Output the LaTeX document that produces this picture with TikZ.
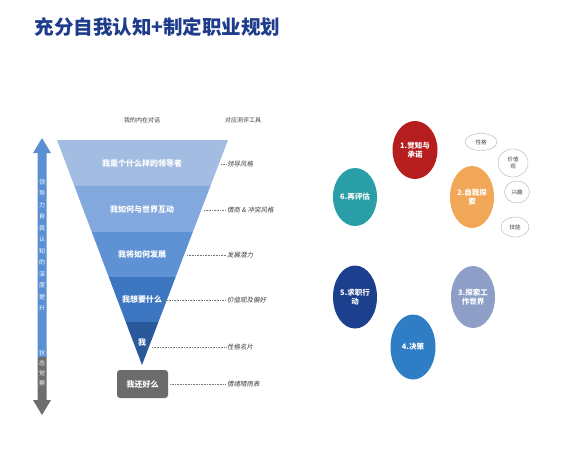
\documentclass[tikz,border=0pt]{standalone}
\usepackage{fontspec}
\setmainfont{Noto Sans CJK SC}
\newfontfamily\slantcjk[FakeSlant=0.2]{Noto Sans CJK SC}
\usepackage{tikz}
\usetikzlibrary{calc, arrows.meta, positioning, shapes.geometric}
\usepackage{xcolor}

\definecolor{titleblue}{HTML}{1E3C8C}
\definecolor{layA}{HTML}{A3BDE2}
\definecolor{layB}{HTML}{82A8DD}
\definecolor{layC}{HTML}{5F92D4}
\definecolor{layD}{HTML}{3D76C0}
\definecolor{layE}{HTML}{29599A}
\definecolor{boxgray}{HTML}{6B6B6B}
\definecolor{arrowblue}{HTML}{5B8FD3}
\definecolor{arrowgray}{HTML}{6E6E6E}
\definecolor{labelgray}{HTML}{3F3F3F}
\definecolor{stepred}{HTML}{B51D1F}
\definecolor{steporange}{HTML}{F2A657}
\definecolor{stepgrey}{HTML}{8D9FC6}
\definecolor{stepblue}{HTML}{2F7DC5}
\definecolor{stepnavy}{HTML}{1C3F8E}
\definecolor{stepteal}{HTML}{2A9EA6}

\begin{document}
\begin{tikzpicture}[x=1pt, y=-1pt,
    layer/.style={text=white, font=\fontsize{8}{9}\selectfont\bfseries},
    tool/.style={anchor=west, text=labelgray, font=\fontsize{6.5}{7}\selectfont\slantcjk, inner sep=1pt},
    head/.style={text=labelgray, font=\fontsize{6}{7}\selectfont},
    link/.style={densely dotted, labelgray!70, line width=0.6pt},
    stage/.style={ellipse, minimum width=44pt, minimum height=60pt, inner sep=0pt, align=center,
      text=white, font=\fontsize{7.5}{9}\selectfont\bfseries},
    trait/.style={ellipse, draw=gray!60, fill=white, inner sep=0pt, align=center,
      text=labelgray, font=\fontsize{5.5}{6.5}\selectfont}]
    \useasboundingbox (0,0) rectangle (572,453);
    \fill[white] (0,0) rectangle (572,453);

    % title
    \node[text=titleblue, font=\fontsize{19.5}{22}\selectfont\bfseries, anchor=west] (title) at (31,27) {充分自我认知+制定职业规划};

    % left double arrow
    \fill[arrowblue] (42,138) -- (51,153) -- (46.5,153) -- (46.5,357) -- (37.5,357) -- (37.5,153) -- (33,153) -- cycle;
    \fill[arrowgray] (37.5,357) -- (46.5,357) -- (46.5,400) -- (51,400) -- (42,415) -- (33,400) -- (37.5,400) -- cycle;
    \node[text=white, align=center, font=\fontsize{6}{11.5}\selectfont] (deep) at (42,245)
      {领\\导\\力\\自\\我\\认\\知\\的\\深\\度\\提\\升};
    \node[text=white, align=center, font=\fontsize{6}{10}\selectfont] (state) at (42,368)
      {状\\态\\觉\\察};

    % funnel
    \coordinate (tl) at (57,140);
    \coordinate (tr) at (228,140);
    \coordinate (apex) at (142,365);
    \foreach \a/\b/\c in {0/0.204/layA, 0.204/0.409/layB, 0.409/0.609/layC, 0.609/0.809/layD, 0.809/1/layE}
      \fill[\c] ($(tl)!\a!(apex)$) -- ($(tr)!\a!(apex)$) -- ($(tr)!\b!(apex)$) -- ($(tl)!\b!(apex)$) -- cycle;

    \node[layer] (lead) at (142,163) {我是个什么样的领导者};
    \node[layer] (world) at (142,209) {我如何与世界互动};
    \node[layer] (grow) at (142,254) {我将如何发展};
    \node[layer] (want) at (142,299) {我想要什么};
    \node[layer] (me) at (142,342) {我};
    \node[fill=boxgray, rounded corners=3pt, minimum width=51pt, minimum height=28pt, text=white,
      font=\fontsize{8}{9}\selectfont\bfseries] (ok) at (142.5,384) {我还好么};

    % headers
    \node[head] (inner) at (142,120) {我的内在对话};
    \node[head] (tools) at (243,120) {对应测评工具};

    % tools
    \node[tool] (t1) at (226,164) {领导风格};
    \node[tool] (t2) at (226,210) {情商 \& 冲突风格};
    \node[tool] (t3) at (226,255) {发展潜力};
    \node[tool] (t4) at (226,300) {价值观及偏好};
    \node[tool] (t5) at (226,347) {性格名片};
    \node[tool] (t6) at (226,384) {情绪晴雨表};
    \coordinate (e1) at (221,164);
    \coordinate (e2) at (204,210);
    \coordinate (e3) at (187,255);
    \coordinate (e4) at (164,300);
    \coordinate (e5) at (152,347);
    \draw[link] (e1) -- (t1.west);
    \draw[link] (e2) -- (t2.west);
    \draw[link] (e3) -- (t3.west);
    \draw[link] (e4) -- (t4.west);
    \draw[link] (e5) -- (t5.west);
    \draw[link] ([xshift=2pt]ok.east) -- (t6.west);

    % career cycle
    \node[stage, fill=stepred, minimum width=45pt, minimum height=58pt] (s1) at (415,150) {1.觉知与\\承诺};
    \node[stage, fill=steporange, minimum height=62pt] (s2) at (472,197) {2.自我探\\索};
    \node[stage, fill=stepgrey, minimum height=62pt] (s3) at (473,297) {3.探索工\\作世界};
    \node[stage, fill=stepblue, minimum width=45pt, minimum height=65pt] (s4) at (413,347) {4.决策};
    \node[stage, fill=stepnavy, minimum height=63pt] (s5) at (355,297) {5.求职行\\动};
    \node[stage, fill=stepteal, minimum height=58pt] (s6) at (355,197) {6.再评估};

    \node[trait, minimum width=32pt, minimum height=17pt] (p1) at (481,142) {性格};
    \node[trait, minimum width=30pt, minimum height=28pt] (p2) at (513,163) {价值\\观};
    \node[trait, minimum width=25pt, minimum height=22pt] (p3) at (517,192) {兴趣};
    \node[trait, minimum width=28pt, minimum height=20pt] (p4) at (515,227) {技能};
  \end{tikzpicture}
\end{document}
